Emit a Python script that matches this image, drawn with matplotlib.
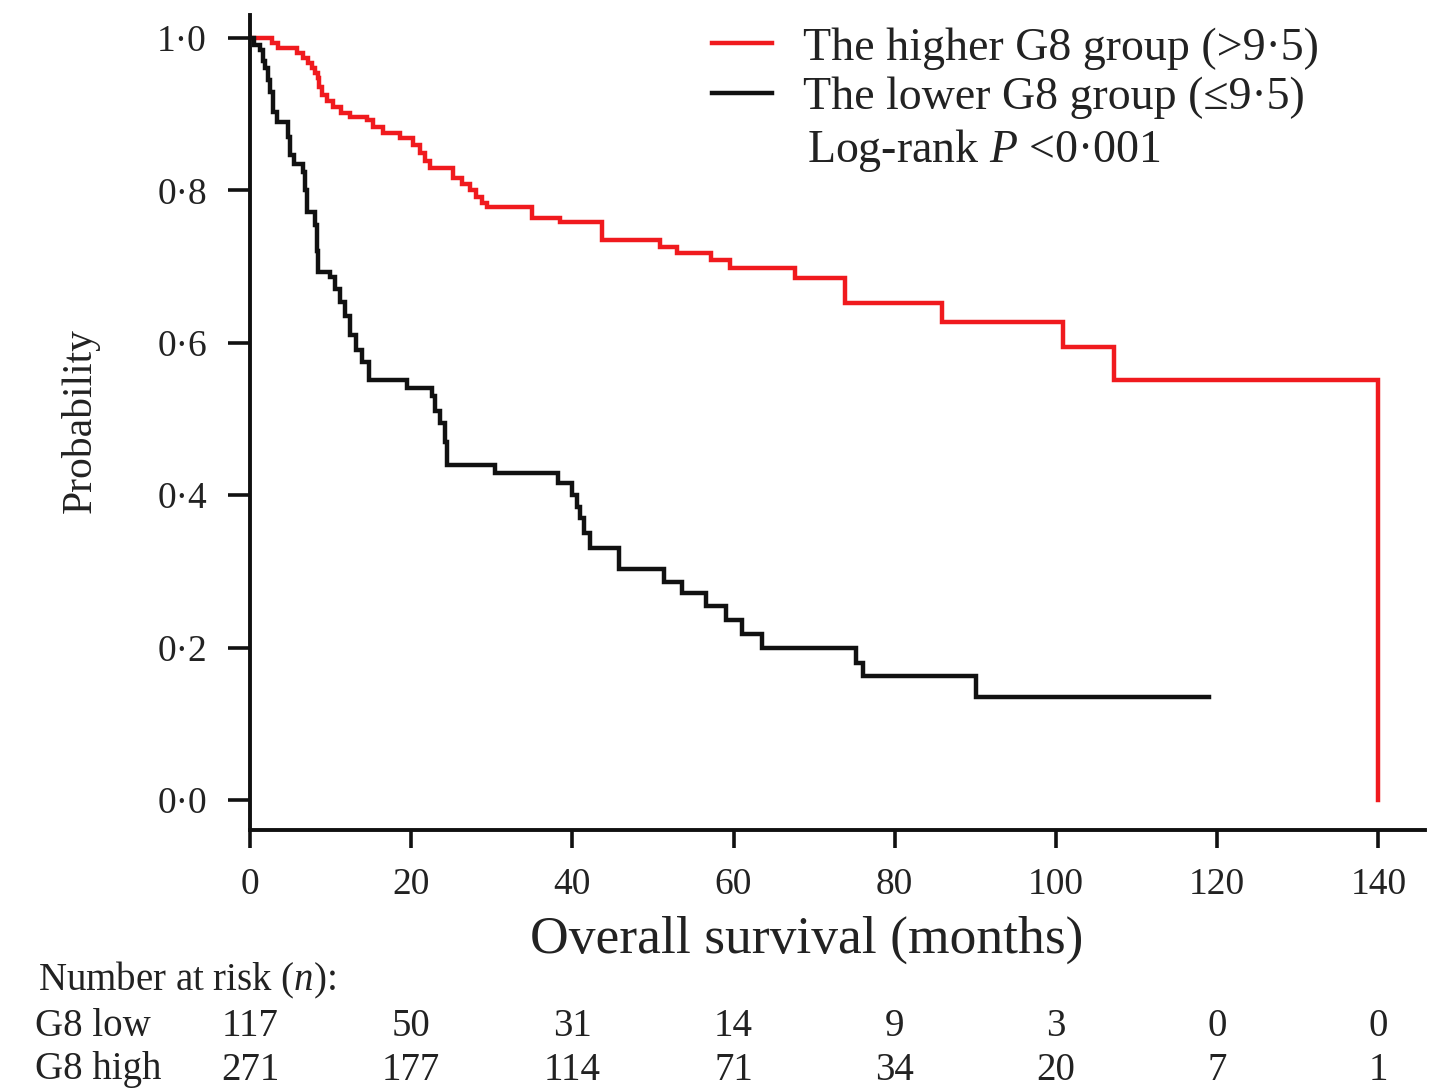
import matplotlib
matplotlib.use("Agg")
import matplotlib.pyplot as plt
from matplotlib.lines import Line2D
from matplotlib.transforms import blended_transform_factory

plt.rcParams['font.family'] = ['Liberation Serif', 'DejaVu Serif']
plt.rcParams['mathtext.fontset'] = 'custom'
plt.rcParams['mathtext.rm'] = 'Liberation Serif'
plt.rcParams['mathtext.it'] = 'Liberation Serif:italic'

# Kaplan-Meier estimates: higher G8 group (>9.5)
high_time = [0, 2.7, 3.5, 5.8, 6.6, 7.2, 7.7, 8.1, 8.4, 8.6, 8.9, 9.5, 10.3, 11.3,
             12.4, 14.5, 15.3, 16.5, 18.6, 20.2, 21.1, 21.7, 22.3, 25.2, 26.3, 27.3,
             28.0, 28.8, 29.4, 35.0, 38.5, 43.7, 50.9, 53.0, 57.2, 59.6, 67.6, 73.8,
             85.9, 100.9, 107.2, 140.0]
high_surv = [1.0, 0.993, 0.987, 0.980, 0.974, 0.967, 0.961, 0.954, 0.947, 0.935, 0.925,
             0.917, 0.909, 0.902, 0.896, 0.892, 0.883, 0.875, 0.869, 0.860, 0.849, 0.839,
             0.829, 0.816, 0.808, 0.800, 0.791, 0.783, 0.778, 0.764, 0.759, 0.735, 0.726,
             0.718, 0.709, 0.698, 0.685, 0.652, 0.627, 0.594, 0.551, 0.0]

# Kaplan-Meier estimates: lower G8 group (<=9.5)
low_time = [0, 0.5, 1.2, 1.6, 1.9, 2.2, 2.5, 2.9, 3.3, 4.7, 5.0, 5.5, 6.6, 6.8, 7.1,
            8.1, 8.3, 8.4, 9.9, 10.5, 11.2, 11.8, 12.4, 13.2, 13.9, 14.8, 19.5, 22.6,
            23.0, 23.6, 24.2, 24.5, 30.4, 38.2, 40.0, 40.6, 41.0, 41.5, 42.2, 45.8,
            51.4, 53.6, 56.6, 59.1, 61.1, 63.5, 75.2, 76.0, 90.1, 119.0]
low_surv = [1.0, 0.990, 0.984, 0.970, 0.961, 0.945, 0.929, 0.903, 0.890, 0.870, 0.846,
            0.835, 0.824, 0.800, 0.772, 0.755, 0.720, 0.693, 0.686, 0.670, 0.654, 0.635,
            0.610, 0.590, 0.575, 0.551, 0.540, 0.530, 0.510, 0.495, 0.470, 0.440, 0.429,
            0.416, 0.400, 0.385, 0.370, 0.350, 0.331, 0.303, 0.286, 0.272, 0.254, 0.236,
            0.218, 0.200, 0.180, 0.163, 0.135, 0.135]

# Number at risk table
risk_times = [0, 20, 40, 60, 80, 100, 120, 140]
risk_low = [117, 50, 31, 14, 9, 3, 0, 0]
risk_high = [271, 177, 114, 71, 34, 20, 7, 1]

x_ticks = [0, 20, 40, 60, 80, 100, 120, 140]
y_ticks = [0.0, 0.2, 0.4, 0.6, 0.8, 1.0]
y_tick_labels = ['0·0', '0·2', '0·4', '0·6', '0·8', '1·0']

RED = '#f01a1e'
BLACK = '#111111'
TEXT = '#222222'

fig = plt.figure(figsize=(14.5, 10.88), dpi=100)
ax = fig.add_axes([0.1724, 0.2371, 0.8104, 0.7491])

ax.plot(high_time, high_surv, drawstyle='steps-post', color=RED, lw=3.2,
        solid_joinstyle='miter')
ax.plot(low_time, low_surv, drawstyle='steps-post', color=BLACK, lw=3.2,
        solid_joinstyle='miter')

ax.set_xlim(0, 145.8)
ax.set_ylim(-0.0394, 1.030)

for side in ('top', 'right'):
    ax.spines[side].set_visible(False)
for side in ('left', 'bottom'):
    ax.spines[side].set_linewidth(2.8)
    ax.spines[side].set_color(BLACK)

ax.set_xticks(x_ticks)
ax.set_xticklabels([str(t) for t in x_ticks])
ax.set_yticks(y_ticks)
ax.set_yticklabels(y_tick_labels)
ax.tick_params(axis='y', direction='out', length=16, width=2.6, pad=15,
               labelsize=27, colors=BLACK)
ax.tick_params(axis='x', direction='out', length=13, width=2.6, pad=14,
               labelsize=27, colors=BLACK)
for lbl in ax.get_xticklabels() + ax.get_yticklabels():
    lbl.set_color(TEXT)

ax.set_xlabel('Overall survival (months)', fontsize=38.5, color=TEXT)
ax.xaxis.label.set_va('center')
ax.xaxis.set_label_coords(0.474, -0.1345)
ax.set_ylabel('Probability', fontsize=30, color=TEXT)
ax.yaxis.label.set_va('center')
ax.yaxis.set_label_coords(-0.1447, 0.503)

handles = [Line2D([], [], color=RED, lw=3.2), Line2D([], [], color=BLACK, lw=3.2)]
labels = ['The higher G8 group (>9·5)', 'The lower G8 group (≤9·5)']
fs_leg = 33
leg = ax.legend(handles, labels, loc='upper left', frameon=False,
                bbox_to_anchor=(712 / 1450, 1 - 27 / 1088),
                bbox_transform=fig.transFigure, fontsize=fs_leg,
                handlelength=60 / (fs_leg * 100 / 72), handletextpad=0.68,
                labelspacing=0.15, borderpad=0, borderaxespad=0)
for t in leg.get_texts():
    t.set_color(TEXT)

fig.text(807 / 1450, 1 - 150 / 1088, 'Log-rank $P$ <0·001', fontsize=33,
         color=TEXT, ha='left', va='center')

# Number at risk table beneath the x axis
trans = blended_transform_factory(ax.transData, fig.transFigure)
fig.text(38 / 1450, 1 - 980 / 1088, 'Number at risk ($n$):', fontsize=28,
         color=TEXT, ha='left', va='center')
row_y = [1 - 1027 / 1088, 1 - 1070 / 1088]
for name, counts, yy in (('G8 low', risk_low, row_y[0]),
                         ('G8 high', risk_high, row_y[1])):
    fig.text(35 / 1450, yy, name, fontsize=28, color=TEXT,
             ha='left', va='center')
    for t, n in zip(risk_times, counts):
        ax.text(t, yy, str(n), transform=trans, fontsize=28, color=TEXT,
                ha='center', va='center', clip_on=False)

fig.savefig('out.png', dpi=100, facecolor='white')
